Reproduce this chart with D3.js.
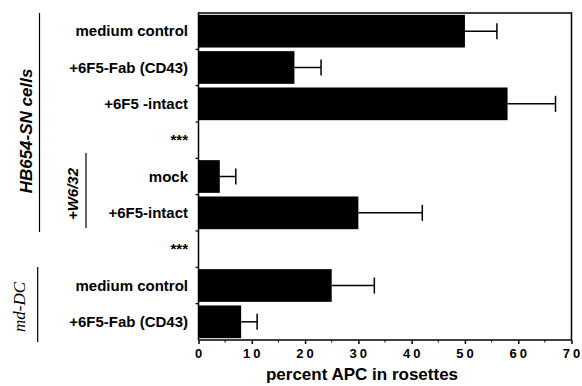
<!DOCTYPE html>
<html>
<head>
<meta charset="utf-8">
<script src="https://cdn.jsdelivr.net/npm/d3@7"></script>
<style>
  body { margin: 0; background: #fff; }
  svg { font-family: "Liberation Sans", Arial, sans-serif; }
</style>
</head>
<body>
<svg id="chart" width="582" height="386"></svg>
<script>
// rows from top to bottom, "***" rows have no bar
const rowLabels = [
  "medium control", "+6F5-Fab (CD43)", "+6F5 -intact", "***",
  "mock", "+6F5-intact", "***",
  "medium control", "+6F5-Fab (CD43)"
];
const rowIds = d3.range(rowLabels.length);
const barValues = [50, 18, 58, null, 4, 30, null, 25, 8];
const errValues = [56, 23, 67, null, 7, 42, null, 33, 11];
const xTicks = [0, 10, 20, 30, 40, 50, 60, 70];

const svg = d3.select("#chart");
const plotLeft = 198.5, plotRight = 571.5, plotTop = 13, plotBottom = 340;

const x = d3.scaleLinear().domain([0, 70]).range([plotLeft, plotRight]);
const y = d3.scaleBand().domain(rowIds).range([plotTop, plotBottom]).paddingInner(0.1).paddingOuter(0.05);
const yStep = d3.scaleBand().domain(rowIds).range([plotTop, plotBottom]);

// bars
const rows = rowIds.filter((i) => barValues[i] !== null);
svg.selectAll("rect.bar")
  .data(rows)
  .enter()
  .append("rect")
  .attr("class", "bar")
  .attr("x", x(0))
  .attr("y", (i) => y(i))
  .attr("width", (i) => x(barValues[i]) - x(0))
  .attr("height", y.bandwidth())
  .attr("fill", "#000");

// error bars (upper side only)
const err = svg.append("g").attr("stroke", "#000").attr("stroke-width", 1.5);
err.selectAll("line.e")
  .data(rows)
  .enter()
  .append("line")
  .attr("x1", (i) => x(barValues[i]))
  .attr("x2", (i) => x(errValues[i]))
  .attr("y1", (i) => y(i) + y.bandwidth() / 2)
  .attr("y2", (i) => y(i) + y.bandwidth() / 2);
err.selectAll("line.c")
  .data(rows)
  .enter()
  .append("line")
  .attr("x1", (i) => x(errValues[i]))
  .attr("x2", (i) => x(errValues[i]))
  .attr("y1", (i) => y(i) + y.bandwidth() / 2 - 8)
  .attr("y2", (i) => y(i) + y.bandwidth() / 2 + 8);

// frame
const frame = svg.append("g").attr("stroke", "#000").attr("stroke-width", 1.5).attr("fill", "none");
frame.append("path").attr("d", `M${plotLeft},${plotBottom}V${plotTop}H${plotRight}V${plotBottom}`);

// x axis
const xAxis = svg.append("g")
  .attr("transform", `translate(0,${plotBottom})`)
  .call(d3.axisBottom(x).tickValues(xTicks).tickSize(4).tickPadding(5))
  .call((g) => g.select(".domain").attr("stroke-width", 1.5).attr("d", `M${plotLeft},0H${plotRight}`));
xAxis.selectAll(".tick line").attr("stroke-width", 1.5);
xAxis.selectAll(".tick text")
  .attr("font-size", 13)
  .attr("font-weight", "bold")
  .attr("font-family", "Liberation Sans, Arial, sans-serif")
  .style("letter-spacing", "3px")
  .attr("dx", 1);
svg.append("g")
  .selectAll("line")
  .data(d3.range(5, 70, 10))
  .enter()
  .append("line")
  .attr("x1", (d) => x(d))
  .attr("x2", (d) => x(d))
  .attr("y1", plotBottom)
  .attr("y2", plotBottom + 2.5)
  .attr("stroke", "#000")
  .attr("stroke-width", 1);

svg.append("text")
  .attr("x", 362)
  .attr("y", 380)
  .attr("text-anchor", "middle")
  .attr("font-size", 17)
  .attr("font-weight", "bold")
  .text("percent APC in rosettes");

// y axis ticks at row boundaries
svg.append("g")
  .selectAll("line")
  .data(rowIds.slice(1))
  .enter()
  .append("line")
  .attr("x1", plotLeft - 3)
  .attr("x2", plotLeft)
  .attr("y1", (i) => yStep(i))
  .attr("y2", (i) => yStep(i))
  .attr("stroke", "#000")
  .attr("stroke-width", 1.2);

// row labels
svg.append("g")
  .selectAll("text")
  .data(rowIds)
  .enter()
  .append("text")
  .attr("x", 188)
  .attr("y", (i) => yStep(i) + yStep.bandwidth() / 2)
  .attr("dy", "0.35em")
  .attr("text-anchor", "end")
  .attr("font-size", 15)
  .attr("font-weight", "bold")
  .text((i) => rowLabels[i]);

// group labels and brackets
const groups = [
  { label: "HB654-SN cells", x: 32, cy: 131, size: 17, font: "Liberation Sans, Arial, sans-serif", weight: "bold", lx: 39.5, y1: 13, y2: 232 },
  { label: "+W6/32", x: 78, cy: 194, size: 15, font: "Liberation Sans, Arial, sans-serif", weight: "bold", lx: 86, y1: 153, y2: 228 },
  { label: "md-DC", x: 25, cy: 307, size: 17, font: "Liberation Serif, Times New Roman, serif", weight: "normal", lx: 37.7, y1: 267, y2: 342 }
];
groups.forEach((g) => {
  svg.append("text")
    .attr("transform", `translate(${g.x},${g.cy}) rotate(-90)`)
    .attr("text-anchor", "middle")
    .attr("font-size", g.size)
    .attr("font-style", "italic")
    .attr("font-weight", g.weight)
    .attr("font-family", g.font)
    .text(g.label);
  svg.append("line")
    .attr("x1", g.lx).attr("x2", g.lx)
    .attr("y1", g.y1).attr("y2", g.y2)
    .attr("stroke", "#000")
    .attr("stroke-width", 1.2);
});
</script>
</body>
</html>
